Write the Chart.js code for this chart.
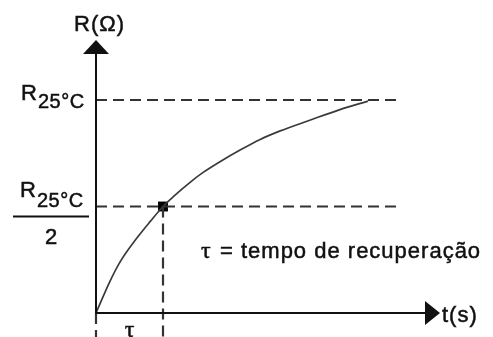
<!DOCTYPE html>
<html>
<head>
<meta charset="utf-8">
<script src="https://cdn.jsdelivr.net/npm/chart.js@4/dist/chart.umd.min.js"></script>
<style>
  html, body { margin: 0; padding: 0; background: #fff; }
  canvas { display: block; }
</style>
</head>
<body>
<canvas id="curve" width="493" height="337"></canvas>
<script>
// t in units of tau, R in units of R25°C
const timeValues = [0, 0.21, 0.36, 0.63, 0.81, 1, 1.15, 1.45, 1.6, 1.85, 2.15, 2.45, 2.75, 3.19, 3.64, 4.06];
const resistanceValues = [0, 0.15, 0.24, 0.36, 0.43, 0.5, 0.545, 0.625, 0.66, 0.71, 0.765, 0.815, 0.855, 0.905, 0.955, 0.995];
const refLevels = [1, 0.5];           // R25°C and R25°C / 2
const refLineEnd = 4.5;               // where the horizontal guides stop
const tau = 1;
const belowAxis = -0.12;              // guides run a little under the t axis
const tickLabels = ['R', '25°C'];
const tauLabel = 'τ';
const legendText = '= tempo de recuperação';
const axisTitles = ['R(Ω)', 't(s)'];

const INK = '#111';
const DASH = '#333';
const SANS = '"Liberation Sans", Arial, sans-serif';

const curvePoints = timeValues.map((t, i) => ({ x: t, y: resistanceValues[i] }));

// text a touch heavier than the plain canvas weight
function heavyText(ctx, str, x, y) {
    ctx.fillText(str, x, y);
    ctx.strokeText(str, x, y);
}

// draws the two axes with arrow heads plus all the labels
const sketchAxes = {
    id: 'sketchAxes',
    afterDatasetsDraw(chart) {
        const ctx = chart.ctx;
        const xs = chart.scales.x;
        const ys = chart.scales.y;
        const area = chart.chartArea;
        const x0 = xs.getPixelForValue(0);
        const y0 = ys.getPixelForValue(0);

        ctx.save();
        ctx.strokeStyle = INK;
        ctx.fillStyle = INK;
        ctx.lineWidth = 2;

        // vertical axis
        ctx.beginPath();
        ctx.moveTo(x0, y0);
        ctx.lineTo(x0, area.top + 10);
        ctx.stroke();
        ctx.beginPath();
        ctx.moveTo(x0, area.top);
        ctx.lineTo(x0 - 13, area.top + 14);
        ctx.lineTo(x0 + 13, area.top + 14);
        ctx.closePath();
        ctx.fill();

        // horizontal axis
        ctx.beginPath();
        ctx.moveTo(x0 - 1, y0);
        ctx.lineTo(area.right - 10, y0);
        ctx.stroke();
        ctx.beginPath();
        ctx.moveTo(area.right, y0);
        ctx.lineTo(area.right - 15, y0 - 12);
        ctx.lineTo(area.right - 15, y0 + 12);
        ctx.closePath();
        ctx.fill();

        ctx.textBaseline = 'alphabetic';
        ctx.textAlign = 'left';
        ctx.lineWidth = 0.5;
        ctx.letterSpacing = '1px';

        // axis titles
        ctx.font = '22px ' + SANS;
        heavyText(ctx, axisTitles[0], x0 - 22, area.top - 9);
        heavyText(ctx, axisTitles[1], area.right + 2, y0 + 9);

        // R25°C on the upper guide
        const yTop = ys.getPixelForValue(refLevels[0]);
        ctx.font = '22px ' + SANS;
        heavyText(ctx, tickLabels[0], 21, yTop);
        ctx.letterSpacing = '0.5px';
        ctx.font = '20px ' + SANS;
        heavyText(ctx, tickLabels[1], 38, yTop + 8);

        // R25°C / 2 on the lower guide
        const yMid = ys.getPixelForValue(refLevels[1]);
        ctx.font = '22px ' + SANS;
        heavyText(ctx, tickLabels[0], 20, yMid - 10);
        ctx.font = '20px ' + SANS;
        heavyText(ctx, tickLabels[1], 37, yMid);
        ctx.lineWidth = 2;
        ctx.beginPath();
        ctx.moveTo(13, yMid + 10);
        ctx.lineTo(89, yMid + 10);
        ctx.stroke();
        ctx.lineWidth = 0.5;
        ctx.font = '22px ' + SANS;
        heavyText(ctx, '2', 45, yMid + 37);

        // tau under the axis and the note on the right
        const xTau = xs.getPixelForValue(tau);
        ctx.letterSpacing = '0px';
        ctx.font = '24px "Liberation Serif", "Times New Roman", serif';
        ctx.textAlign = 'center';
        heavyText(ctx, tauLabel, (x0 + xTau) / 2, y0 + 24);
        ctx.textAlign = 'left';
        heavyText(ctx, tauLabel, 201, 258);
        ctx.letterSpacing = '1px';
        ctx.font = '22px ' + SANS;
        heavyText(ctx, legendText, 220, 258);

        ctx.restore();
    }
};

const dashed = (points) => ({
    type: 'line',
    data: points,
    borderColor: DASH,
    borderWidth: 2.2,
    borderDash: [11, 6],
    pointRadius: 0,
    fill: false,
    clip: false
});

new Chart(document.getElementById('curve'), {
    type: 'scatter',
    data: {
        datasets: [
            dashed([{ x: 0, y: refLevels[0] }, { x: refLineEnd, y: refLevels[0] }]),
            dashed([{ x: 0, y: refLevels[1] }, { x: refLineEnd, y: refLevels[1] }]),
            dashed([{ x: tau, y: refLevels[1] }, { x: tau, y: belowAxis }]),
            dashed([{ x: 0, y: 0 }, { x: 0, y: belowAxis }]),
            {
                type: 'line',
                data: curvePoints,
                borderColor: '#3a3a3a',
                borderWidth: 1.7,
                pointRadius: 0,
                cubicInterpolationMode: 'monotone',
                fill: false
            },
            {
                type: 'scatter',
                data: [{ x: tau, y: refLevels[1] }],
                pointStyle: 'rect',
                pointRadius: 7,
                backgroundColor: '#000',
                borderColor: '#000',
                borderWidth: 0
            }
        ]
    },
    options: {
        responsive: false,
        animation: false,
        layout: { padding: { left: 96, right: 53, top: 40, bottom: 24 } },
        plugins: { legend: { display: false }, tooltip: { enabled: false } },
        scales: {
            x: { type: 'linear', display: false, min: 0, max: 5.134 },
            y: { type: 'linear', display: false, min: 0, max: 1.2817 }
        }
    },
    plugins: [sketchAxes]
});
</script>
</body>
</html>
